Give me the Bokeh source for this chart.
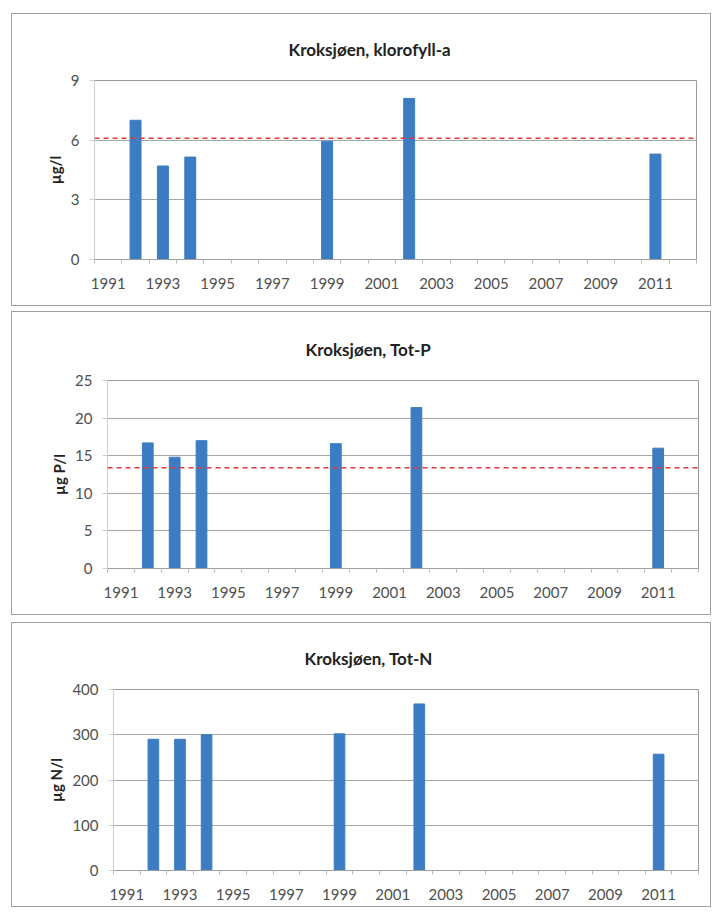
from bokeh.plotting import figure
from bokeh.models import FixedTicker, Span, Range1d
from bokeh.embed import file_html
from bokeh.resources import INLINE

# ---- data ----
years = [1992, 1993, 1994, 1999, 2002, 2011]
klorofyll = [7.0, 4.7, 5.15, 5.95, 8.1, 5.3]
tot_p = [16.7, 14.8, 17.0, 16.6, 21.4, 16.0]
tot_n = [290, 290, 300, 302, 368, 257]
klorofyll_limit = 6.1
tot_p_limit = 13.4

x_tick_years = [1991, 1993, 1995, 1997, 1999, 2001, 2003, 2005, 2007, 2009, 2011]
y_ticks_chl = [0, 3, 6, 9]
y_ticks_p = [0, 5, 10, 15, 20, 25]
y_ticks_n = [0, 100, 200, 300, 400]

titles = ["Kroksjøen, klorofyll-a", "Kroksjøen, Tot-P", "Kroksjøen, Tot-N"]
ylabels = ["µg/l", "µg P/l", "µg N/l"]

FONT = "Lato"
BAR = "#3b7cc2"
GRID = "#a8a8a8"
X0, X1 = 1990.5, 2012.5
FIG_W = 700


def panel(title, ylabel, values, yticks, limit, height, borders, margin_top, title_offset):
    left, right, top, bottom = borders
    p = figure(width=FIG_W, height=height, output_backend="svg", toolbar_location=None,
               x_range=Range1d(X0, X1), y_range=Range1d(yticks[0], yticks[-1]),
               min_border_left=left, min_border_right=right,
               min_border_top=top, min_border_bottom=bottom,
               margin=(margin_top, 0, 0, 11), title=title,
               styles={"border": "1px solid #a0a0a0", "box-sizing": "border-box"})

    p.title.align = "left"
    p.title.offset = title_offset
    p.title.standoff = 41
    p.title.text_font = FONT
    p.title.text_font_size = "17px"
    p.title.text_font_style = "bold"
    p.title.text_color = "#222222"

    p.vbar(x=years, top=values, width=0.4, bottom=0, fill_color=BAR, line_color=BAR)
    if limit is not None:
        p.add_layout(Span(location=limit, dimension="width", line_color="#e23a3a",
                          line_width=1.6, line_dash="5 4"))

    p.outline_line_color = "#9a9a9a"
    p.background_fill_color = "white"
    p.border_fill_color = "white"

    p.xgrid.grid_line_color = None
    p.ygrid.grid_line_color = GRID
    p.ygrid.grid_line_width = 1

    bounds = [y + 0.5 for y in range(1990, 2013)]
    p.xaxis.ticker = FixedTicker(ticks=x_tick_years, minor_ticks=bounds)
    p.xaxis.axis_line_color = "#a0a0a0"
    p.xaxis.major_tick_line_color = None
    p.xaxis.minor_tick_line_color = "#b8b8b8"
    p.xaxis.minor_tick_out = 4
    p.xaxis.minor_tick_in = 0
    p.xaxis.major_tick_out = 4
    p.xaxis.major_label_standoff = 14
    p.xaxis.major_label_text_font = FONT
    p.xaxis.major_label_text_font_size = "15px"
    p.xaxis.major_label_text_color = "#505050"

    p.yaxis.ticker = FixedTicker(ticks=yticks, minor_ticks=[])
    p.yaxis.axis_line_color = "#d0d0d0"
    p.yaxis.major_tick_line_color = "#d0d0d0"
    p.yaxis.major_tick_out = 5
    p.yaxis.major_tick_in = 0
    p.yaxis.major_label_standoff = 10
    p.yaxis.major_label_text_font = FONT
    p.yaxis.major_label_text_font_size = "15px"
    p.yaxis.major_label_text_color = "#505050"
    p.yaxis.axis_label = ylabel
    p.yaxis.axis_label_text_font = FONT
    p.yaxis.axis_label_text_font_size = "15px"
    p.yaxis.axis_label_text_font_style = "bold"
    p.yaxis.axis_label_text_color = "#222222"
    p.yaxis.axis_label_standoff = 4
    return p


p1 = panel(titles[0], ylabels[0], klorofyll, y_ticks_chl, klorofyll_limit,
           293, (82, 16, 66, 48), 13, 194)
p2 = panel(titles[1], ylabels[1], tot_p, y_ticks_p, tot_p_limit,
           304, (95, 14, 68, 48), 5, 198)
p3 = panel(titles[2], ylabels[2], tot_n, y_ticks_n, None,
           285, (101, 14, 66, 38), 7, 191)

open("out.html", "w").write(file_html([p1, p2, p3], INLINE))
